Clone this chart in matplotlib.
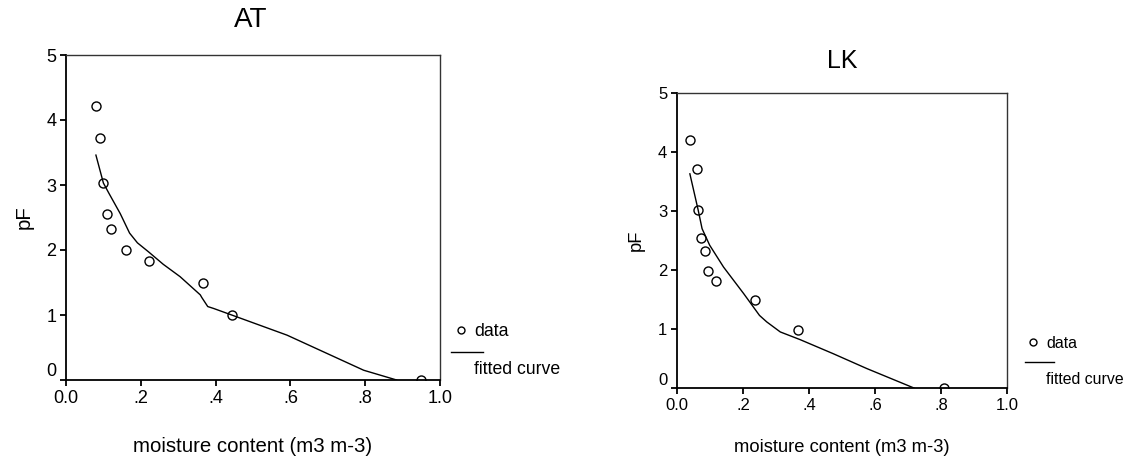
import matplotlib
matplotlib.use('Agg')
import matplotlib.pyplot as plt

plt.rcParams['font.family'] = ['Liberation Sans', 'DejaVu Sans']

# AT site
at_theta = [0.080, 0.090, 0.100, 0.110, 0.121, 0.161, 0.221, 0.365, 0.443, 0.950]
at_pf = [4.21, 3.73, 3.03, 2.55, 2.33, 2.00, 1.83, 1.50, 1.00, 0.00]
at_fit_theta = [0.080, 0.100, 0.115, 0.145, 0.170, 0.191, 0.221, 0.260, 0.305,
                0.359, 0.363, 0.379, 0.395, 0.443, 0.591, 0.796, 0.884]
at_fit_pf = [3.46, 3.03, 2.87, 2.56, 2.26, 2.11, 1.97, 1.78, 1.59,
             1.31, 1.27, 1.13, 1.10, 1.00, 0.69, 0.15, 0.00]

# LK site
lk_theta = [0.039, 0.060, 0.064, 0.073, 0.084, 0.094, 0.117, 0.235, 0.366, 0.809]
lk_pf = [4.20, 3.72, 3.02, 2.54, 2.32, 1.99, 1.82, 1.50, 0.99, 0.00]
lk_fit_theta = [0.039, 0.064, 0.076, 0.099, 0.141, 0.202, 0.250, 0.272, 0.313,
                0.373, 0.474, 0.575, 0.718]
lk_fit_pf = [3.63, 3.02, 2.70, 2.42, 2.05, 1.60, 1.23, 1.12, 0.95,
             0.82, 0.58, 0.33, 0.00]

xticks = [0, 0.2, 0.4, 0.6, 0.8, 1.0]
xticklabels = ['0.0', '.2', '.4', '.6', '.8', '1.0']
yticks = [0, 1, 2, 3, 4, 5]

W, H = 1132, 459
fig = plt.figure(figsize=(W / 100, H / 100), dpi=100)


def box(l, t, r, b):
    return [l / W, 1 - b / H, (r - l) / W, (b - t) / H]


def panel(rect, theta, pf, fth, fpf, title, title_xy, tick_fs, lab_fs, leg_fs,
          tfs, xlab_y, pf_x, leg):
    ax = fig.add_axes(rect)
    ax.plot(fth, fpf, color='black', lw=1.0)
    ax.plot(theta, pf, 'o', mfc='none', mec='black', ms=6.5, mew=1.0)
    ax.set_xlim(0, 1)
    ax.set_ylim(0, 5)
    ax.set_xticks(xticks)
    ax.set_xticklabels(xticklabels)
    ax.set_yticks(yticks)
    ax.tick_params(direction='out', length=4, width=1.3, labelsize=tick_fs, pad=3)
    for s in ['left', 'bottom']:
        ax.spines[s].set_linewidth(1.3)
    for s in ['top', 'right']:
        ax.spines[s].set_linewidth(1.0)
        ax.spines[s].set_color('#333333')
    ax.get_yticklabels()[0].set_va('bottom')
    fig.text(title_xy[0] / W, 1 - title_xy[1] / H, title, fontsize=tfs,
             ha='center', va='center')
    cx = rect[0] + rect[2] / 2
    fig.text(cx, 1 - xlab_y / H, 'moisture content (m3 m-3)', fontsize=lab_fs,
             ha='center', va='center')
    fig.text(pf_x / W, rect[1] + rect[3] / 2, 'pF', fontsize=lab_fs,
             rotation=90, ha='center', va='center')
    # legend
    mx, my, lx0, lx1, ly, tx, ty1, ty2 = leg
    fig.lines.append(plt.Line2D([mx / W], [1 - my / H], marker='o', mfc='none',
                                mec='black', ms=5, mew=1.0,
                                transform=fig.transFigure))
    fig.lines.append(plt.Line2D([lx0 / W, lx1 / W], [1 - ly / H, 1 - ly / H],
                                color='black', lw=1.0, transform=fig.transFigure))
    fig.text(tx / W, 1 - ty1 / H, 'data', fontsize=leg_fs, va='center')
    fig.text(tx / W, 1 - ty2 / H, 'fitted curve', fontsize=leg_fs, va='center')
    return ax


panel(box(66, 55, 440, 380), at_theta, at_pf, at_fit_theta, at_fit_pf,
      'AT', (251, 20), 13, 14.7, 12.7, 20, 446, 24,
      (461, 330, 451, 483, 352, 474, 331, 370))
panel(box(677, 93, 1007, 388), lk_theta, lk_pf, lk_fit_theta, lk_fit_pf,
      'LK', (842, 61), 12, 13.2, 11.4, 18, 447, 636,
      (1033, 342, 1025, 1054, 362, 1046, 344, 380))

fig.savefig('out.png', dpi=100)
